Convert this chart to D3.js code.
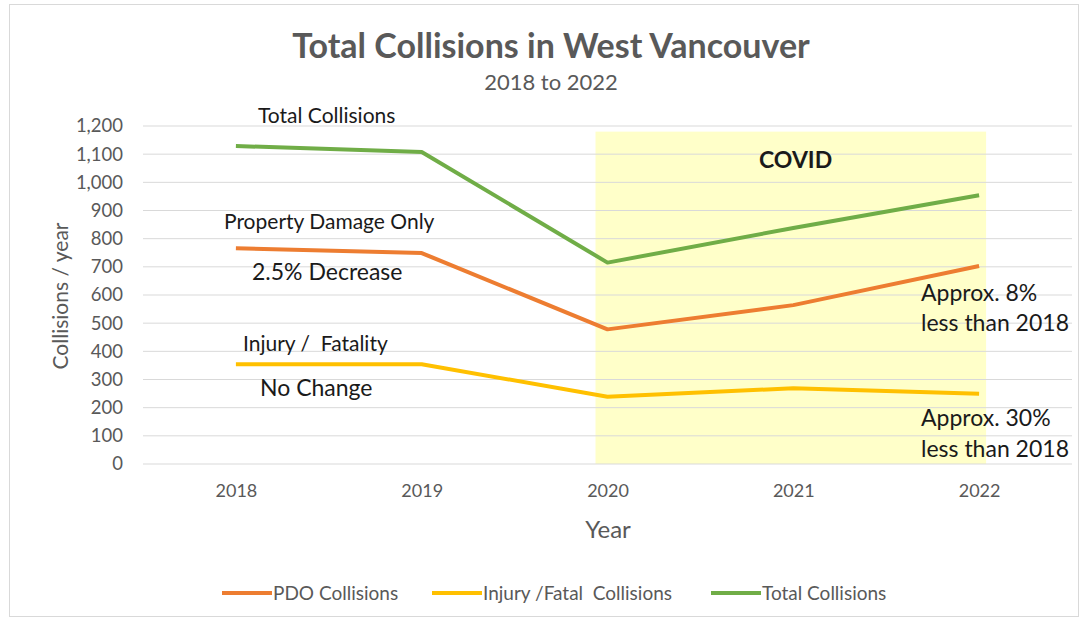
<!DOCTYPE html>
<html>
<head>
<meta charset="utf-8">
<script src="https://cdn.jsdelivr.net/npm/d3@7"></script>
<style>
  body { margin: 0; background: #fff; }
  text { font-family: Lato, "Open Sans", sans-serif; }
</style>
</head>
<body>
<div id="chart"></div>
<script>
// collisions per year
const years = ["2018", "2019", "2020", "2021", "2022"];
const pdoValues = [766, 749, 478, 564, 703];
const injuryValues = [354, 354, 239, 269, 249];
const totalValues = [1129, 1108, 715, 838, 954];
const yTicks = [0, 100, 200, 300, 400, 500, 600, 700, 800, 900, 1000, 1100, 1200];
const covidYears = ["2020", "2022"];

const series = [
  { name: "PDO Collisions", values: pdoValues, color: "#ED7D31" },
  { name: "Injury /Fatal  Collisions", values: injuryValues, color: "#FFC000" },
  { name: "Total Collisions", values: totalValues, color: "#70AD47" }
];

const width = 1086;
const height = 625;
const margin = { top: 126, right: 14, bottom: 161, left: 143 };
const plotW = width - margin.left - margin.right;
const plotH = height - margin.top - margin.bottom;

const svg = d3.select("#chart")
  .append("svg")
  .attr("width", width)
  .attr("height", height);

// outer chart border
svg.append("rect")
  .attr("x", 9.5).attr("y", 4.5)
  .attr("width", 1069).attr("height", 612)
  .attr("fill", "#fff")
  .attr("stroke", "#d9d9d9");

const g = svg.append("g")
  .attr("transform", `translate(${margin.left},${margin.top})`);

const x = d3.scalePoint()
  .domain(years)
  .range([0, plotW])
  .padding(0.5);

const y = d3.scaleLinear()
  .domain([0, 1200])
  .range([plotH, 0]);

// COVID shaded region
g.append("rect")
  .attr("x", x(covidYears[0]) - 12)
  .attr("y", y(1180))
  .attr("width", x(covidYears[1]) - x(covidYears[0]) + 19)
  .attr("height", y(0) - y(1180))
  .attr("fill", "#FFFFC9");

// gridlines
g.append("g")
  .selectAll("line")
  .data(yTicks)
  .enter()
  .append("line")
  .attr("x1", 0)
  .attr("x2", plotW)
  .attr("y1", d => y(d))
  .attr("y2", d => y(d))
  .attr("stroke", "#d9d9d9")
  .attr("stroke-width", 1);

// Y axis labels
const yAxis = g.append("g")
  .call(d3.axisLeft(y).tickValues(yTicks).tickSize(0).tickPadding(20).tickFormat(d3.format(",")));
yAxis.select(".domain").remove();
yAxis.selectAll("text")
  .attr("fill", "#595959")
  .style("font-size", "18.5px");

// X axis labels
const xAxis = g.append("g")
  .attr("transform", `translate(0, ${plotH})`)
  .call(d3.axisBottom(x).tickSize(0).tickPadding(20));
xAxis.select(".domain").remove();
xAxis.selectAll("text")
  .attr("fill", "#595959")
  .style("font-size", "18px");

// lines
const line = d3.line()
  .x((d, i) => x(years[i]))
  .y(d => y(d));

g.selectAll(".series")
  .data(series)
  .enter()
  .append("path")
  .attr("class", "series")
  .attr("d", d => line(d.values))
  .attr("fill", "none")
  .attr("stroke", d => d.color)
  .attr("stroke-width", 4)
  .attr("stroke-linejoin", "round");

// titles
svg.append("text")
  .attr("x", 551).attr("y", 58)
  .attr("text-anchor", "middle")
  .attr("fill", "#595959")
  .style("font-size", "34px")
  .style("font-weight", "bold")
  .text("Total Collisions in West Vancouver");

svg.append("text")
  .attr("x", 551).attr("y", 90)
  .attr("text-anchor", "middle")
  .attr("fill", "#595959")
  .style("font-size", "22px")
  .text("2018 to 2022");

svg.append("text")
  .attr("transform", "translate(68, 296) rotate(-90)")
  .attr("text-anchor", "middle")
  .attr("fill", "#595959")
  .style("font-size", "21px")
  .text("Collisions / year");

svg.append("text")
  .attr("x", 608).attr("y", 538)
  .attr("text-anchor", "middle")
  .attr("fill", "#595959")
  .style("font-size", "24px")
  .text("Year");

// annotations
const notes = [
  { text: "Total Collisions", x: 258, y: 123, size: 21, weight: "normal" },
  { text: "Property Damage Only", x: 224, y: 229, size: 21, weight: "normal" },
  { text: "2.5% Decrease", x: 252, y: 280, size: 23, weight: "normal" },
  { text: "Injury /  Fatality", x: 243, y: 351, size: 21, weight: "normal" },
  { text: "No Change", x: 260, y: 396, size: 23, weight: "normal" },
  { text: "COVID", x: 759, y: 168, size: 23, weight: "bold" },
  { text: "Approx. 8%", x: 921, y: 301, size: 23, weight: "normal" },
  { text: "less than 2018", x: 921, y: 331, size: 23, weight: "normal" },
  { text: "Approx. 30%", x: 921, y: 426, size: 23, weight: "normal" },
  { text: "less than 2018", x: 921, y: 457, size: 23, weight: "normal" }
];

svg.selectAll(".note")
  .data(notes)
  .enter()
  .append("text")
  .attr("class", "note")
  .attr("x", d => d.x)
  .attr("y", d => d.y)
  .attr("fill", "#1a1a1a")
  .style("font-size", d => d.size + "px")
  .style("font-weight", d => d.weight)
  .style("white-space", "pre")
  .text(d => d.text);

// legend
const legendX = [222, 432, 711];
const legend = svg.selectAll(".legend")
  .data(series)
  .enter()
  .append("g")
  .attr("class", "legend")
  .attr("transform", (d, i) => `translate(${legendX[i]}, 593)`);

legend.append("line")
  .attr("x1", 0).attr("x2", 50)
  .attr("stroke", d => d.color)
  .attr("stroke-width", 4);

legend.append("text")
  .attr("x", 51)
  .attr("y", 6.5)
  .attr("fill", "#595959")
  .style("font-size", "19px")
  .style("white-space", "pre")
  .text(d => d.name);
</script>
</body>
</html>
